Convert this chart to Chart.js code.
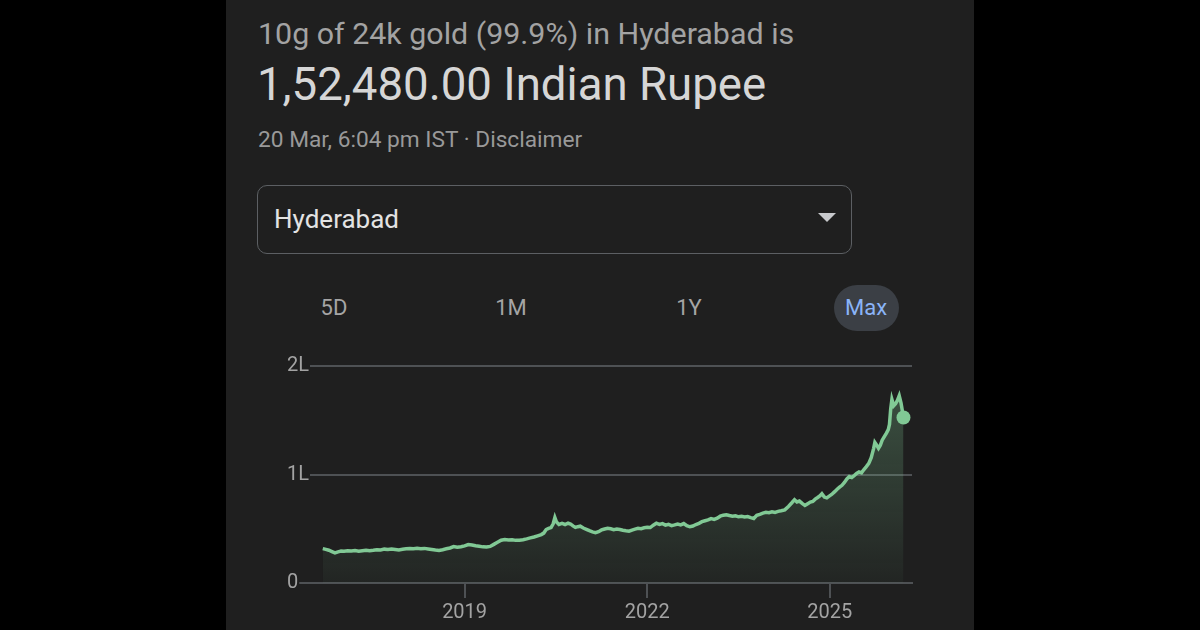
<!DOCTYPE html>
<html>
<head>
<meta charset="utf-8">
<script src="https://cdn.jsdelivr.net/npm/chart.js@4.4.1/dist/chart.umd.min.js"></script>
<style>
  html, body { margin: 0; padding: 0; background: #000; }
  body { width: 1200px; height: 630px; position: relative; overflow: hidden; font-family: Roboto, "Noto Sans", sans-serif; }
  #panel { position: absolute; left: 226px; top: 0; width: 748px; height: 630px; background: #1f1f1f; }
  .t { position: absolute; white-space: nowrap; line-height: 1; }
  #l1 { left: 258px; top: 19px; font-size: 30.4px; color: #a3a3a3; }
  #l2 { left: 257px; top: 62px; font-size: 45.6px; color: #d6d6d6; }
  #l3 { left: 258px; top: 129px; font-size: 22.7px; color: #999; }
  #drop { position: absolute; left: 257px; top: 185px; width: 595px; height: 69px; border: 1px solid #5c5f63; border-radius: 10px; box-sizing: border-box; }
  #city { left: 274px; top: 206px; font-size: 26px; color: #e3e3e3; }
  #arrow { position: absolute; left: 818px; top: 213px; width: 0; height: 0; border-left: 9px solid transparent; border-right: 9px solid transparent; border-top: 9px solid #c8c9cc; }
  .tab { top: 297px; font-size: 22px; color: #a5a5a5; transform: translateX(-50%); }
  #pill { position: absolute; left: 834px; top: 285px; width: 65px; height: 46px; border-radius: 23px; background: #3b3f45; }
  #max { color: #8ab4f8; }
  #chartBox { position: absolute; left: 260px; top: 340px; width: 680px; height: 290px; }
</style>
</head>
<body>
<div id="panel"></div>
<div class="t" id="l1">10g of 24k gold (99.9%) in Hyderabad is</div>
<div class="t" id="l2">1,52,480.00 Indian Rupee</div>
<div class="t" id="l3">20 Mar, 6:04 pm IST · Disclaimer</div>
<div id="drop"></div>
<div class="t" id="city">Hyderabad</div>
<div id="arrow"></div>
<div id="pill"></div>
<div class="t tab" style="left:334px">5D</div>
<div class="t tab" style="left:511px">1M</div>
<div class="t tab" style="left:689px">1Y</div>
<div class="t tab" id="max" style="left:866px">Max</div>
<div id="chartBox"><canvas id="goldChart" width="680" height="290"></canvas></div>

<script>
// decimal year of each reading
const years = [
  2016.67, 2016.72, 2016.77, 2016.82, 2016.87, 2016.92, 2016.97, 2017.02, 2017.08, 2017.14,
  2017.20, 2017.26, 2017.32, 2017.38, 2017.44, 2017.50, 2017.56, 2017.62, 2017.68, 2017.74,
  2017.80, 2017.86, 2017.92, 2017.98, 2018.04, 2018.10, 2018.16, 2018.22, 2018.28, 2018.34,
  2018.40, 2018.46, 2018.52, 2018.58, 2018.64, 2018.70, 2018.76, 2018.82, 2018.88, 2018.94,
  2019.00, 2019.06, 2019.12, 2019.18, 2019.24, 2019.30, 2019.36, 2019.42, 2019.48, 2019.54,
  2019.60, 2019.66, 2019.72, 2019.78, 2019.84, 2019.90, 2019.96, 2020.02, 2020.08, 2020.14,
  2020.20, 2020.26, 2020.30, 2020.34, 2020.38, 2020.42, 2020.455, 2020.483, 2020.51, 2020.55,
  2020.60, 2020.65, 2020.70, 2020.74, 2020.78, 2020.82, 2020.86, 2020.90, 2020.95, 2021.00,
  2021.05, 2021.10, 2021.15, 2021.20, 2021.25, 2021.30, 2021.35, 2021.40, 2021.45, 2021.50,
  2021.55, 2021.60, 2021.65, 2021.70, 2021.75, 2021.80, 2021.85, 2021.90, 2021.95, 2022.00,
  2022.05, 2022.10, 2022.15, 2022.20, 2022.25, 2022.30, 2022.35, 2022.40, 2022.45, 2022.50,
  2022.55, 2022.60, 2022.65, 2022.70, 2022.75, 2022.80, 2022.85, 2022.90, 2022.95, 2023.00,
  2023.05, 2023.10, 2023.15, 2023.20, 2023.25, 2023.30, 2023.35, 2023.40, 2023.45, 2023.50,
  2023.55, 2023.60, 2023.65, 2023.70, 2023.75, 2023.80, 2023.85, 2023.90, 2023.95, 2024.00,
  2024.05, 2024.10, 2024.15, 2024.20, 2024.26, 2024.32, 2024.38, 2024.42, 2024.46, 2024.50,
  2024.55, 2024.59, 2024.63, 2024.68, 2024.72, 2024.76, 2024.80, 2024.84, 2024.87, 2024.91,
  2024.95, 2024.99, 2025.03, 2025.08, 2025.12, 2025.16, 2025.20, 2025.24, 2025.28, 2025.32,
  2025.36, 2025.40, 2025.44, 2025.48, 2025.52, 2025.56, 2025.60, 2025.64, 2025.68, 2025.72,
  2025.74, 2025.77, 2025.80, 2025.83, 2025.86, 2025.89, 2025.93, 2025.96, 2025.98, 2026.00,
  2026.02, 2026.05, 2026.08, 2026.11, 2026.14, 2026.17, 2026.21
];

// price of 10g in thousand rupees
const prices = [
  31.7, 31.0, 30.2, 29.0, 27.8, 28.7, 29.4, 29.2, 29.8, 29.4,
  29.9, 29.3, 29.8, 30.2, 29.7, 30.1, 30.6, 30.4, 31.2, 30.8,
  31.3, 30.9, 30.5, 31.1, 31.6, 31.9, 31.5, 32.0, 31.6, 31.9,
  31.4, 30.9, 30.4, 30.0, 30.7, 31.5, 32.3, 33.6, 32.9, 33.4,
  34.2, 35.4, 35.0, 34.3, 33.8, 33.3, 33.1, 33.7, 35.6, 37.5,
  39.4, 40.1, 39.6, 39.9, 39.3, 39.5, 39.9, 40.7, 41.6, 42.4,
  43.5, 44.6, 46.0, 49.3, 50.4, 51.1, 54.6, 60.3, 56.2, 54.0,
  54.9, 53.9, 55.1, 54.4, 52.6, 51.2, 51.9, 52.4, 50.7, 49.5,
  48.2, 47.1, 46.4, 47.3, 48.9, 49.8, 50.5, 50.0, 49.2, 49.7,
  49.3, 48.6, 48.1, 47.7, 48.8, 49.6, 50.4, 50.1, 50.9, 51.4,
  51.1, 53.3, 55.1, 54.0, 54.7, 53.3, 54.0, 52.9, 53.6, 54.4,
  53.6, 54.8, 52.8, 51.8, 52.5, 53.9, 55.0, 56.5, 57.4, 58.1,
  59.4, 58.6, 59.8, 61.6, 62.5, 62.9, 62.2, 61.6, 62.0, 61.0,
  61.5, 60.8, 61.2, 60.2, 59.5, 62.4, 63.3, 64.4, 65.1, 64.8,
  65.7, 65.1, 66.0, 66.6, 67.4, 70.6, 74.2, 76.8, 74.7, 75.5,
  73.1, 71.5, 72.9, 74.6, 75.2, 77.3, 78.8, 80.4, 82.3, 79.2,
  78.5, 80.1, 81.6, 84.2, 86.4, 88.3, 90.0, 92.7, 95.9, 98.1,
  97.3, 99.0, 100.9, 102.4, 101.5, 104.6, 107.3, 110.2, 115.6, 124.1,
  129.6, 127.1, 124.2, 126.9, 131.6, 134.5, 138.2, 141.4, 146.2, 160.5,
  169.2, 163.4, 165.2, 168.3, 172.6, 165.8, 152.48
];

const xTickYears = [2019, 2022, 2025];
const xTickLabels = ['2019', '2022', '2025'];
const yTickValues = [0, 100, 200];
const yTickLabels = ['0', '1L', '2L'];

const lineGreen = '#81c995';
const gridColor = '#4e5154';
const labelColor = '#a3a3a3';

const points = years.map((y, i) => ({ x: y, y: prices[i] }));

// the horizontal rules start right after each y label, not at the plot edge
const gridLead = {
  id: 'gridLead',
  beforeDatasetsDraw(chart) {
    const yScale = chart.scales.y;
    const c = chart.ctx;
    c.save();
    c.font = '20px Roboto';
    c.strokeStyle = gridColor;
    c.lineWidth = 2;
    yScale.ticks.forEach((t, i) => {
      const py = yScale.getPixelForValue(t.value);
      const start = yScale.left + c.measureText(yTickLabels[i]).width + 1;
      if (start < chart.chartArea.left) {
        c.beginPath();
        c.moveTo(start, py);
        c.lineTo(chart.chartArea.left, py);
        c.stroke();
      }
    });
    c.restore();
  }
};

const ctx = document.getElementById('goldChart').getContext('2d');

new Chart(ctx, {
  type: 'line',
  data: {
    datasets: [{
      data: points,
      borderColor: lineGreen,
      borderWidth: 3.5,
      tension: 0,
      fill: 'origin',
      backgroundColor: function(context) {
        const area = context.chart.chartArea;
        if (!area) return 'rgba(129,201,149,0.1)';
        const g = context.chart.ctx.createLinearGradient(0, area.top, 0, area.bottom);
        g.addColorStop(0, 'rgba(129,201,149,0.32)');
        g.addColorStop(1, 'rgba(129,201,149,0.04)');
        return g;
      },
      // only the latest reading gets a dot
      pointRadius: (c) => c.dataIndex === points.length - 1 ? 7 : 0,
      pointBackgroundColor: lineGreen,
      pointBorderWidth: 0,
      pointHoverRadius: 0
    }]
  },
  plugins: [gridLead],
  options: {
    responsive: false,
    animation: false,
    devicePixelRatio: 1,
    layout: { padding: { left: 27, right: 28, top: 26, bottom: 0 } },
    plugins: { legend: { display: false }, tooltip: { enabled: false } },
    scales: {
      x: {
        type: 'linear',
        min: 2016.46,
        max: 2026.35,
        afterBuildTicks: (axis) => { axis.ticks = xTickYears.map(v => ({ value: v })); },
        afterFit: (axis) => { axis.height = 47; },
        ticks: {
          color: labelColor,
          font: { family: 'Roboto', size: 20 },
          padding: 3,
          maxRotation: 0,
          callback: (v) => xTickLabels[xTickYears.indexOf(v)]
        },
        grid: { drawOnChartArea: false, drawTicks: true, tickLength: 15, color: gridColor, lineWidth: 2 },
        border: { display: true, color: gridColor, width: 2 }
      },
      y: {
        min: 0,
        max: 200,
        afterBuildTicks: (axis) => { axis.ticks = yTickValues.map(v => ({ value: v })); },
        afterFit: (axis) => { axis.width = 23; },
        ticks: {
          color: labelColor,
          font: { family: 'Roboto', size: 20 },
          crossAlign: 'far',
          padding: 0,
          callback: (v) => yTickLabels[yTickValues.indexOf(v)]
        },
        grid: { drawTicks: false, color: gridColor, lineWidth: 2 },
        border: { display: false }
      }
    }
  }
});
</script>
</body>
</html>
